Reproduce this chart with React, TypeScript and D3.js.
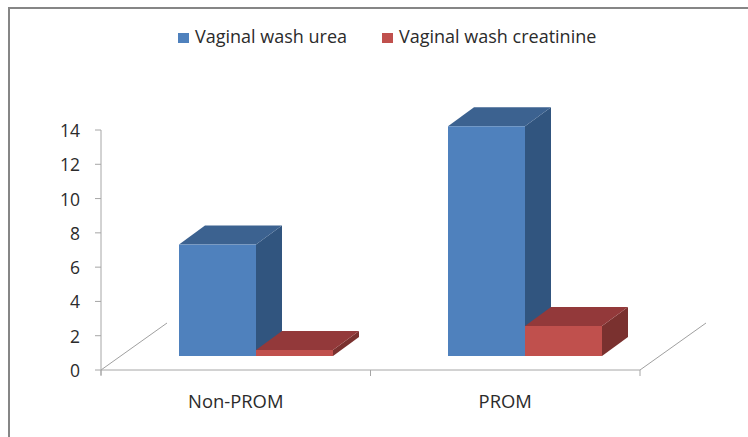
import React from "react";
import * as d3 from "d3";

const categories = ["Non-PROM", "PROM"];
const seriesNames = ["Vaginal wash urea", "Vaginal wash creatinine"];
const ureaValues = [6.5, 13.4];
const creatinineValues = [0.35, 1.75];
const yTickValues = [0, 2, 4, 6, 8, 10, 12, 14];

const front = ["#4f81bd", "#c0504d"];
const topFace = ["#3c6290", "#93393a"];
const sideFace = ["#31557f", "#7a312f"];

const W = 748, H = 437;
const x0 = 101, x1 = 640, yBottom = 370, yTop = 130;
const depthX = 26, depthY = -19, floorDX = 66, floorDY = -47, baseLift = 14;
const barW = 77, barShift = 20;

export default function App() {
  const y = d3.scaleLinear().domain([0, 14]).range([yBottom, yTop]);
  const xBand = d3.scaleBand<string>().domain(categories).range([x0, x1]);
  const bars = [ureaValues, creatinineValues].flatMap((vals, s) =>
    vals.map((v, c) => {
      const cx = (xBand(categories[c]) as number) + xBand.bandwidth() / 2;
      const left = Math.round(cx - barW + barShift) + s * barW;
      const bottom = yBottom - baseLift;
      const top = y(v) - baseLift;
      return { s, c, left, right: left + barW, bottom, top };
    })
  );
  const pts = (a: number[][]) => a.map((p) => p.join(",")).join(" ");
  const font = "'Open Sans', 'Noto Sans', sans-serif";
  const line = d3.line();
  const textFill = "#2b2b2b";
  return (
    <svg
      width={W}
      height={H}
      viewBox={`0 0 ${W} ${H}`}
      style={{ position: "absolute", left: 0, top: 0, background: "#fff" }}
      fontFamily={font}
    >
      <line x1={8} x2={W} y1={8} y2={8} stroke="#868686" strokeWidth={2} />
      <line x1={9} x2={9} y1={7} y2={H} stroke="#868686" strokeWidth={2} />
      {/* floor */}
      <path d={line([[x0, yBottom], [x0 + floorDX, yBottom + floorDY]]) as string} stroke="#a0a0a0" fill="none" />
      <path d={line([[x1, yBottom], [x1 + floorDX, yBottom + floorDY]]) as string} stroke="#a0a0a0" fill="none" />
      {/* axes */}
      <line x1={x0} x2={x0} y1={yTop} y2={yBottom + 5} stroke="#a6a6a6" />
      <line x1={x0} x2={x1} y1={yBottom} y2={yBottom} stroke="#a6a6a6" />
      {yTickValues.map((t) => (
        <g key={t}>
          <line x1={x0 - 6} x2={x0} y1={y(t)} y2={y(t)} stroke="#a6a6a6" />
          <text x={x0 - 21} y={y(t) + 7} textAnchor="end" fontSize={17.5} fill={textFill}>
            {t}
          </text>
        </g>
      ))}
      {[0, 1, 2].map((i) => {
        const xp = x0 + (i * (x1 - x0)) / 2;
        return <line key={i} x1={xp} x2={xp} y1={yBottom} y2={yBottom + 6} stroke="#a6a6a6" />;
      })}
      {categories.map((c) => (
        <text
          key={c}
          x={(xBand(c) as number) + xBand.bandwidth() / 2}
          y={408}
          textAnchor="middle"
          fontSize={18.4}
          fill={textFill}
        >
          {c}
        </text>
      ))}
      {/* bars, back to front */}
      {bars.map((b) => (
        <g key={`${b.s}-${b.c}`}>
          <polygon
            points={pts([[b.right, b.top], [b.right + depthX, b.top + depthY], [b.right + depthX, b.bottom + depthY], [b.right, b.bottom]])}
            fill={sideFace[b.s]}
          />
          <polygon
            points={pts([[b.left, b.top], [b.left + depthX, b.top + depthY], [b.right + depthX, b.top + depthY], [b.right, b.top]])}
            fill={topFace[b.s]}
          />
          <rect x={b.left} y={b.top} width={barW} height={b.bottom - b.top} fill={front[b.s]} />
        </g>
      ))}
      {/* legend */}
      {seriesNames.map((n, i) => {
        const lx = [178, 382][i];
        return (
          <g key={n}>
            <rect x={lx} y={33} width={11} height={10} fill={front[i]} />
            <text x={lx + 17} y={43} fontSize={18} fill={textFill}>
              {n}
            </text>
          </g>
        );
      })}
    </svg>
  );
}
